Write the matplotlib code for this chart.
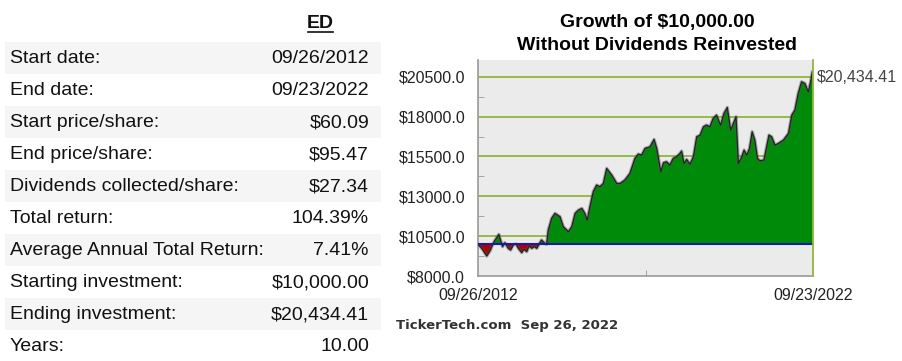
import matplotlib
matplotlib.use("Agg")
import matplotlib.pyplot as plt
from matplotlib.patches import Rectangle
from matplotlib.ticker import FixedLocator

plt.rcParams['font.family'] = ['Liberation Sans', 'DejaVu Sans']

# Tabela de resumo
ticker = 'ED'
rotulos = ['Start date:', 'End date:', 'Start price/share:', 'End price/share:',
           'Dividends collected/share:', 'Total return:', 'Average Annual Total Return:',
           'Starting investment:', 'Ending investment:', 'Years:']
valores = ['09/26/2012', '09/23/2022', '$60.09', '$95.47', '$27.34', '104.39%',
           '7.41%', '$10,000.00', '$20,434.41', '10.00']

# Série do gráfico (ano decimal, valor do investimento)
anos = [2012.74, 2012.86, 2013.01, 2013.11, 2013.21, 2013.31, 2013.37, 2013.42, 2013.48,
        2013.55, 2013.65, 2013.72, 2013.80, 2013.88, 2013.95, 2014.05, 2014.12, 2014.20,
        2014.27, 2014.35, 2014.42, 2014.50, 2014.58, 2014.64, 2014.74, 2014.79, 2014.84,
        2014.94, 2015.04, 2015.19, 2015.29, 2015.44, 2015.54, 2015.64, 2015.74, 2015.84,
        2015.93, 2016.00, 2016.08, 2016.18, 2016.28, 2016.38, 2016.48, 2016.58, 2016.73,
        2016.88, 2016.98, 2017.12, 2017.27, 2017.42, 2017.52, 2017.62, 2017.72, 2017.87,
        2017.99, 2018.07, 2018.19, 2018.27, 2018.36, 2018.46, 2018.56, 2018.66, 2018.76,
        2018.81, 2018.88, 2018.96, 2019.06, 2019.16, 2019.26, 2019.36, 2019.46, 2019.55,
        2019.65, 2019.75, 2019.85, 2019.97, 2020.07, 2020.17, 2020.27, 2020.35, 2020.43,
        2020.50, 2020.60, 2020.67, 2020.75, 2020.83, 2020.91, 2020.99, 2021.07, 2021.14,
        2021.26, 2021.34, 2021.41, 2021.49, 2021.59, 2021.69, 2021.84, 2021.99, 2022.09,
        2022.18, 2022.28, 2022.38, 2022.48, 2022.58, 2022.65, 2022.70, 2022.73]
investimento = [10000, 9735, 9254, 9588, 10090, 10424, 10613, 10257, 9839,
                10090, 9735, 9630, 9944, 10006, 9735, 9463, 9672, 9526,
                9881, 9735, 9839, 9735, 10048, 10257, 10048, 9986, 10884,
                11616, 11929, 11720, 11093, 10780, 11093, 11929, 12138, 12243,
                11929, 11511, 12347, 13288, 13706, 13601, 13810, 14751, 14333,
                13810, 13810, 14019, 14437, 15378, 15649, 15587, 16005, 16109,
                16569, 16005, 14542, 15106, 15169, 14960, 15378, 15482, 15691,
                15838, 15064, 15315, 15022, 15482, 16736, 16841, 17363, 17468,
                17363, 17886, 18095, 17468, 18199, 18575, 17154, 17572, 17990,
                15064, 15482, 15900, 15587, 16005, 17050, 16527, 15378, 15231,
                15273, 16109, 16841, 16736, 16214, 16318, 16527, 16945, 18095,
                18408, 19453, 20185, 20080, 19558, 20185, 20812, 20853]
inicial = 10000
rotulo_final = '$20,434.41'
ticks_y = [8000, 10500, 13000, 15500, 18000, 20500]

W, H = 903, 361
fig = plt.figure(figsize=(W / 100, H / 100), dpi=100)


def fx(x):
    return x / W


def fy(y):
    return 1 - y / H


# Tabela
fig.text(fx(320), fy(24), ticker, ha='center', va='center', fontsize=14,
         fontweight='bold', color='#111111')
fig.add_artist(plt.Line2D([fx(308), fx(333)], [fy(32), fy(32)], color='#111111', lw=1.2))
for i, (rot, val) in enumerate(zip(rotulos, valores)):
    topo = 42.3 + 32 * i
    if i % 2 == 0:
        fig.add_artist(Rectangle((fx(5), fy(topo + 32)), fx(376), 32 / H,
                                 facecolor='#f5f5f5', edgecolor='none', zorder=0))
    fig.text(fx(10), fy(topo + 16.5), rot, ha='left', va='center', fontsize=14, color='#111111')
    fig.text(fx(369), fy(topo + 16.5), val, ha='right', va='center', fontsize=14, color='#111111')

# Gráfico
ax = fig.add_axes([fx(477.7), fy(276), (813.3 - 477.7) / W, (276 - 60) / H])
ax.set_facecolor('#ebebeb')
ax.fill_between(anos, inicial, investimento, where=[v >= inicial for v in investimento],
                interpolate=True, color='#008a0a', lw=0, zorder=2)
ax.fill_between(anos, inicial, investimento, where=[v <= inicial for v in investimento],
                interpolate=True, color='#b00000', lw=0, zorder=2)
ax.plot(anos, investimento, color='#555555', lw=2.4, alpha=0.45, zorder=3)
ax.plot(anos, investimento, color='#222222', lw=0.9, zorder=4)
ax.axhline(inicial, color='#1a1aa0', lw=1.5, zorder=5)

ax.set_xlim(anos[0], anos[-1])
ax.set_ylim(8000, 21550)
for v in ticks_y[1:]:
    ax.axhline(v, color='#8fb83a', lw=1.3, zorder=1)

ax.set_yticks(ticks_y)
ax.set_yticklabels(['$%.1f' % v for v in ticks_y])
ax.yaxis.set_minor_locator(FixedLocator([v + 1250 for v in ticks_y[:-1]]))
ax.set_xticks([anos[0], anos[-1]])
ax.set_xticklabels(['09/26/2012', '09/23/2022'])
ax.xaxis.set_minor_locator(FixedLocator([(anos[0] + anos[-1]) / 2]))
ax.tick_params(which='major', length=0, labelsize=11.5, colors='#222222')
ax.tick_params(axis='y', which='major', pad=9)
ax.tick_params(axis='x', which='major', pad=9)
ax.tick_params(which='minor', length=4, direction='in', color='#999999')

ax.spines['top'].set_visible(False)
ax.spines['left'].set_color('#999999')
ax.spines['bottom'].set_color('#999999')
ax.spines['left'].set_linewidth(1.2)
ax.spines['bottom'].set_linewidth(1.2)
ax.spines['right'].set_color('#8fb83a')
ax.spines['right'].set_linewidth(1.3)
ax.spines['right'].set_zorder(6)

fig.text(fx(657), fy(22), 'Growth of $10,000.00', ha='center', va='center',
         fontsize=14, fontweight='bold', color='#000000')
fig.text(fx(657), fy(45), 'Without Dividends Reinvested', ha='center', va='center',
         fontsize=14, fontweight='bold', color='#000000')
fig.text(fx(817), fy(77), rotulo_final, ha='left', va='center', fontsize=11.5, color='#444444')
fig.text(fx(396), fy(326), 'TickerTech.com  Sep 26, 2022', ha='left', va='center',
         fontsize=9.5, fontweight='bold', color='#333333', family='DejaVu Sans')

fig.savefig('out.png', dpi=100)
